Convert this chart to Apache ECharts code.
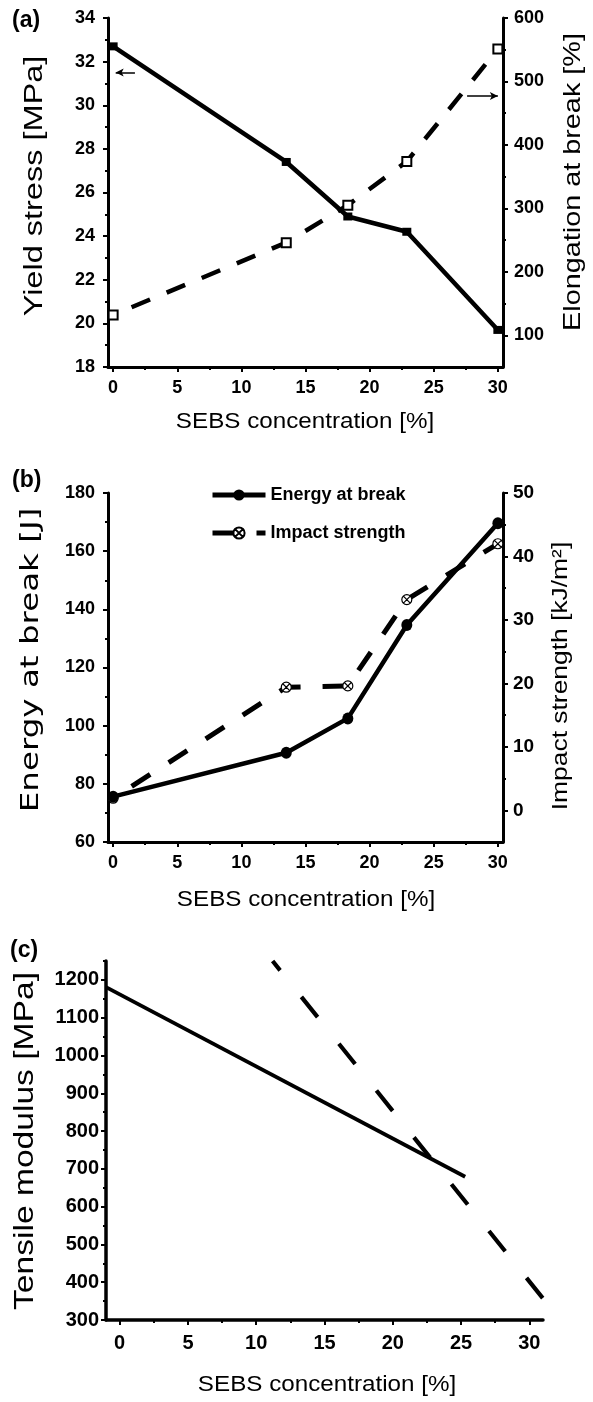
<!DOCTYPE html>
<html>
<head>
<meta charset="utf-8">
<script src="https://cdn.jsdelivr.net/npm/echarts@6/dist/echarts.min.js"></script>
<style>
  html, body { margin: 0; padding: 0; background: #ffffff; }
  #chart { width: 593px; height: 1402px; }
</style>
</head>
<body>
<div id="chart"></div>
<script>
// SEBS concentration of the blends [%]
const sebs = [0, 13.5, 18.3, 22.9, 30];

// (a) tensile properties
const yieldStress = [32.7, 27.4, 24.9, 24.2, 19.7];   // MPa
const elongation = [132, 246, 305, 374, 551];          // %

// (b) toughness
const energyAtBreak = [75.6, 90.7, 102.5, 134.6, 169.6]; // J
const impactStrength = [1.9, 19.4, 19.6, 33.2, 42.0];    // kJ/m2

// (c) tensile modulus trend lines [concentration, MPa]
const modulusSolid = [[-1, 1181], [25.3, 679]];
const modulusDashed = [[11.2, 1250], [31, 357]];

// axis arrows in (a) pointing to the matching axis
const yieldArrow = [[1.7, 31.5], [0.2, 31.5]];
const elongationArrow = [[27.6, 477], [30.0, 477]];

// tick values
const xTicks = [0, 5, 10, 15, 20, 25, 30];
const xMinor = [2.5, 7.5, 12.5, 17.5, 22.5, 27.5];
const yieldTicks = [18, 20, 22, 24, 26, 28, 30, 32, 34];
const yieldMinor = [19, 21, 23, 25, 27, 29, 31, 33];
const elongTicks = [100, 200, 300, 400, 500, 600];
const elongMinor = [150, 250, 350, 450, 550];
const energyTicks = [60, 80, 100, 120, 140, 160, 180];
const energyMinor = [70, 90, 110, 130, 150, 170];
const impactTicks = [0, 10, 20, 30, 40, 50];
const impactMinor = [5, 15, 25, 35, 45];
const modulusTicks = [300, 400, 500, 600, 700, 800, 900, 1000, 1100, 1200];
const modulusMinor = [350, 450, 550, 650, 750, 850, 950, 1050, 1150, 1250];

const FONT = '"Liberation Sans", Arial, Helvetica, sans-serif';

function axisPair(gridIndex, pos, min, max, majors, minors, labelSize, labelMargin, lineW) {
  const main = {
    type: 'value', gridIndex: gridIndex, position: pos, min: min, max: max,
    splitLine: { show: false },
    axisLine: { show: true, onZero: false, lineStyle: { color: '#000', width: lineW } },
    axisTick: { show: true, inside: false, length: 5, customValues: majors,
                lineStyle: { color: '#000', width: 2 } },
    axisLabel: { show: true, customValues: majors, margin: labelMargin, color: '#000',
                 fontFamily: FONT, fontWeight: 'bold', fontSize: labelSize,
                 formatter: function (v) { return String(v); } },
    minorTick: { show: false }
  };
  const minor = {
    type: 'value', gridIndex: gridIndex, position: pos, min: min, max: max,
    splitLine: { show: false },
    axisLine: { show: false, onZero: false },
    axisTick: { show: true, inside: false, length: 3, customValues: minors,
                lineStyle: { color: '#000', width: 2 } },
    axisLabel: { show: false }
  };
  return [main, minor];
}

const xAxes = [].concat(
  axisPair(0, 'bottom', -0.4, 30.4, xTicks, xMinor, 18, 12, 3),
  axisPair(1, 'bottom', -0.4, 30.4, xTicks, xMinor, 18, 12, 3),
  axisPair(2, 'bottom', -1, 31, xTicks, xMinor, 20, 13, 3.5)
);
const yAxes = [].concat(
  axisPair(0, 'left', 18, 34, yieldTicks, yieldMinor, 18, 13, 3),
  axisPair(0, 'right', 50, 600, elongTicks, elongMinor, 18, 11, 3),
  axisPair(1, 'left', 60, 180, energyTicks, energyMinor, 18, 13, 3),
  axisPair(1, 'right', -5, 50, impactTicks, impactMinor, 19, 10, 3),
  axisPair(2, 'left', 300, 1250, modulusTicks, modulusMinor, 20, 7, 3.5)
);

function pairs(xs, ys) { return xs.map((x, i) => [x, ys[i]]); }

const impactSymbol = 'path://M0,5A5,5,0,1,1,10,5A5,5,0,1,1,0,5ZM1.8,1.8L8.2,8.2M8.2,1.8L1.8,8.2';

function arrowLine(seg) {
  return {
    silent: true, animation: false,
    symbol: ['none', 'arrow'], symbolSize: [6, 8],
    label: { show: false },
    lineStyle: { color: '#000', width: 1.5, type: 'solid' },
    data: [[{ coord: seg[0] }, { coord: seg[1] }]]
  };
}

const series = [
  {
    name: 'Yield stress', type: 'line', xAxisIndex: 0, yAxisIndex: 0,
    data: pairs(sebs, yieldStress),
    symbol: 'rect', symbolSize: [9, 8],
    itemStyle: { color: '#000' },
    lineStyle: { color: '#000', width: 4.5 },
    markLine: arrowLine(yieldArrow), z: 3
  },
  {
    name: 'Elongation at break', type: 'line', xAxisIndex: 0, yAxisIndex: 2,
    data: pairs(sebs, elongation),
    symbol: 'rect', symbolSize: [9, 9],
    itemStyle: { color: '#fff', borderColor: '#000', borderWidth: 2 },
    lineStyle: { color: '#000', width: 4.5, type: [20, 18], dashOffset: 18 },
    markLine: arrowLine(elongationArrow), z: 2
  },
  {
    name: 'Energy at break', type: 'line', xAxisIndex: 2, yAxisIndex: 4,
    data: pairs(sebs, energyAtBreak),
    symbol: 'circle', symbolSize: [11, 12],
    itemStyle: { color: '#000' },
    lineStyle: { color: '#000', width: 4.5 }, z: 3
  },
  {
    name: 'Impact strength', type: 'line', xAxisIndex: 2, yAxisIndex: 6,
    data: pairs(sebs, impactStrength),
    symbol: impactSymbol, symbolSize: [10, 10],
    itemStyle: { color: '#fff', borderColor: '#000', borderWidth: 1.2 },
    lineStyle: { color: '#000', width: 5, type: [22, 22], dashOffset: 22 }, z: 2
  },
  {
    name: 'Modulus', type: 'line', xAxisIndex: 4, yAxisIndex: 8,
    data: modulusSolid, symbol: 'none',
    lineStyle: { color: '#000', width: 3.8 }
  },
  {
    name: 'Modulus (dashed)', type: 'line', xAxisIndex: 4, yAxisIndex: 8,
    data: modulusDashed, symbol: 'none',
    lineStyle: { color: '#000', width: 4.2, type: [26, 34], dashOffset: 14 }
  }
];

function hTitle(text, cx, cy) {
  return { type: 'text', x: cx, y: cy, scaleX: 1.1, silent: true,
    style: { text: text, fontSize: 22, fontFamily: FONT, fill: '#000',
             align: 'center', verticalAlign: 'middle' } };
}
function vTitle(text, cx, cy, size, sx, family) {
  return { type: 'text', x: cx, y: cy, rotation: Math.PI / 2, scaleX: sx, silent: true,
    style: { text: text, fontSize: size, fontFamily: family || FONT, fill: '#000',
             align: 'center', verticalAlign: 'middle' } };
}
function panelTag(text, x, y) {
  return { type: 'text', x: x, y: y, silent: true,
    style: { text: text, fontSize: 23, fontWeight: 'bold', fontFamily: FONT, fill: '#000',
             align: 'left', verticalAlign: 'middle' } };
}

const option = {
  animation: false,
  backgroundColor: '#ffffff',
  grid: [
    { left: 108, top: 18, width: 395, height: 349 },
    { left: 108, top: 493, width: 395, height: 349 },
    { left: 106, top: 961, width: 437, height: 359 }
  ],
  xAxis: xAxes,
  yAxis: yAxes,
  legend: {
    data: [
      { name: 'Energy at break', lineStyle: { width: 5 } },
      { name: 'Impact strength', lineStyle: { width: 5, type: [22, 22], dashOffset: 0 } }
    ],
    orient: 'vertical', left: 210, top: 486, padding: 0,
    itemWidth: 53, itemHeight: 14, itemGap: 20,
    textStyle: { fontFamily: FONT, fontWeight: 'bold', fontSize: 18, color: '#000' }
  },
  graphic: [
    panelTag('(a)', 12, 21),
    panelTag('(b)', 12, 481),
    panelTag('(c)', 10, 951),
    hTitle('SEBS concentration [%]', 305, 422),
    hTitle('SEBS concentration [%]', 306, 900),
    hTitle('SEBS concentration [%]', 327, 1385),
    vTitle('Yield stress [MPa]', 35, 186, 26, 1.25),
    vTitle('Elongation at break [%]', 573, 182, 24, 1.2),
    vTitle('Energy at break [J]', 31, 660, 25, 1.3, '"DejaVu Sans", sans-serif'),
    vTitle('Impact strength [kJ/m²]', 561, 676, 22, 1.2),
    vTitle('Tensile modulus [MPa]', 25, 1141, 28, 1.2)
  ],
  series: series
};

const chart = echarts.init(document.getElementById('chart'), null, { renderer: 'canvas' });
chart.setOption(option);
</script>
</body>
</html>
